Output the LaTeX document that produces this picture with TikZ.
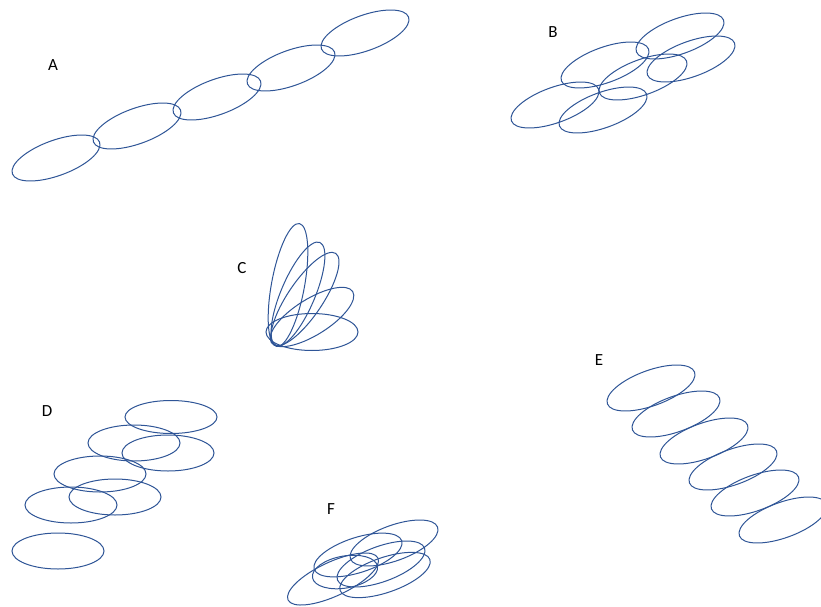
\documentclass[tikz,border=0pt]{standalone}
\usepackage{fontspec}
\setmainfont{Carlito}
\definecolor{elblue}{RGB}{47,85,151}
\tikzset{
  el/.style={draw=elblue, line width=1pt},
  lab/.style={font=\fontsize{17}{17}\selectfont, text=black, inner sep=0pt}
}
\newcommand\myell[5]{\draw[el,rotate around={#5:(#1,#2)}] (#1,#2) ellipse [x radius=#3pt, y radius=#4pt];}
\begin{document}
\begin{tikzpicture}[x=1pt,y=-1pt]
\fill[white] (0,0) rectangle (821,607);
\useasboundingbox (0,0) rectangle (821,607);
\begin{scope}
\clip (0,0) rectangle (821,607);
% labels
\node[lab] (lA) at (53,65) {A};
\node[lab] (lB) at (553,32) {B};
\node[lab] (lC) at (242,268) {C};
\node[lab] (lD) at (47,411) {D};
\node[lab] (lE) at (599,360) {E};
\node[lab] (lF) at (331,509) {F};
% A
\myell{56}{158}{46.4}{17.7}{20}
\myell{137}{126}{46.4}{17.7}{20}
\myell{217}{97}{46.4}{17.7}{20}
\myell{291}{68}{46.4}{17.7}{20}
\myell{365}{33}{46.4}{17.7}{20}
% B
\myell{555}{105}{46.4}{17.7}{20}
\myell{603}{110}{46.4}{17.7}{20}
\myell{605}{65}{46.4}{17.7}{20}
\myell{643}{77}{46.4}{17.7}{20}
\myell{680}{36}{46.4}{17.7}{20}
\myell{691}{59}{46.4}{17.7}{20}
% C
\myell{312}{332}{46}{18.5}{0}
\myell{312}{317}{48}{18}{32}
\myell{305}{299}{55}{17.5}{56}
\myell{298}{294}{56}{17}{67}
\myell{288}{285}{62.5}{16.5}{79.5}
% D
\myell{171}{417}{46}{16.5}{0}
\myell{134}{443}{46}{18}{0}
\myell{168}{453}{46}{18}{0}
\myell{100}{474}{46}{18}{0}
\myell{115}{497}{46}{18}{0}
\myell{71}{505}{46}{18}{0}
\myell{58}{551}{46}{18}{0}
% E
\myell{651}{388}{46.4}{17.7}{20}
\myell{676}{414}{46.4}{17.7}{20}
\myell{704}{441}{46.4}{17.7}{20}
\myell{733}{467}{46.4}{17.7}{20}
\myell{755}{493}{46.4}{17.7}{20}
\myell{783}{520}{46.4}{17.7}{20}
% F
\myell{394}{543}{46.4}{17.7}{20}
\myell{333}{579}{49.6}{17}{25}
\myell{358}{555}{46}{17.5}{18}
\myell{381}{564}{46.4}{17.7}{20}
\myell{385}{575}{47.5}{17.5}{19}
\myell{345}{572}{33}{16}{10}
\end{scope}
\end{tikzpicture}
\end{document}
